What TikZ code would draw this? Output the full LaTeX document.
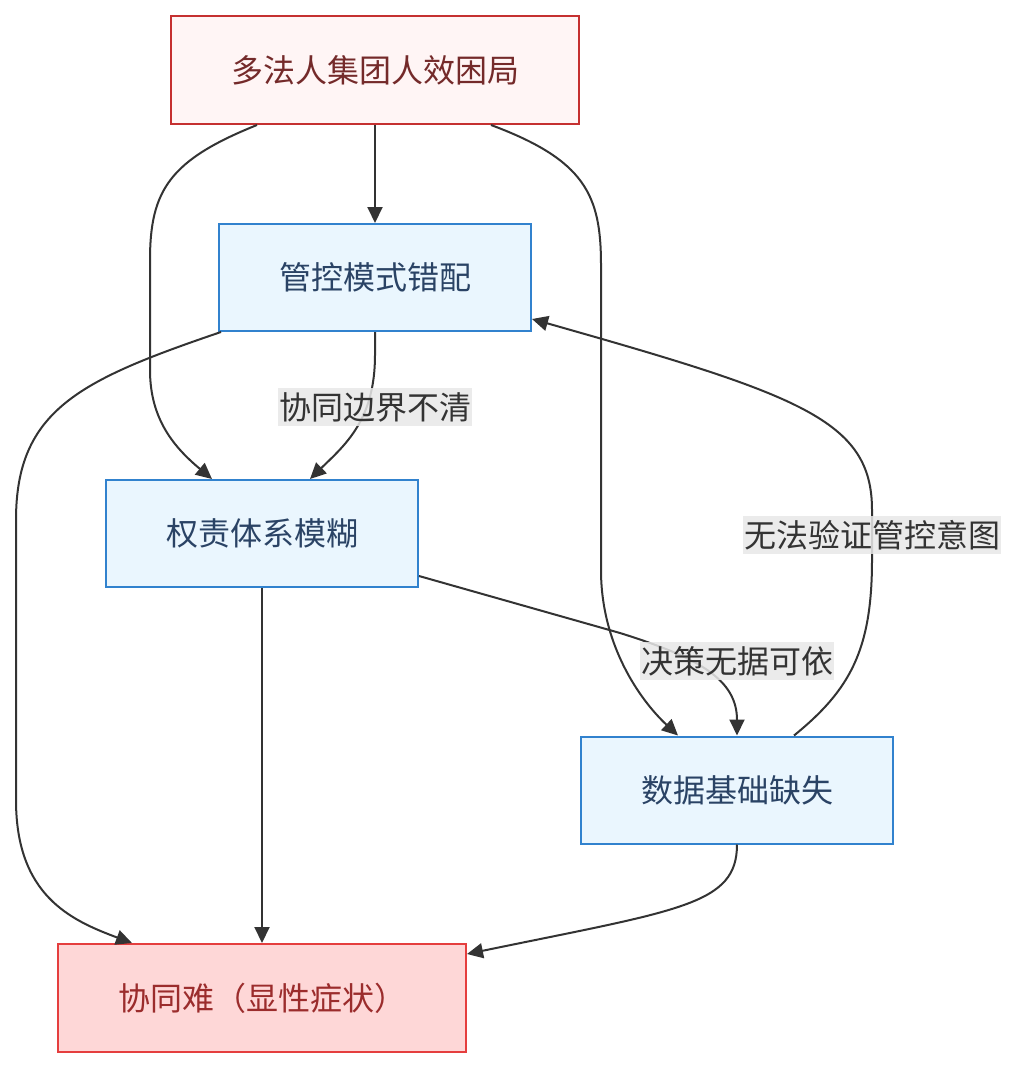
\documentclass[tikz,border=0pt]{standalone}
\usepackage{fontspec}
\setmainfont{Noto Sans CJK SC}
\usetikzlibrary{arrows.meta,calc}
\definecolor{topfill}{HTML}{FFF5F5}
\definecolor{topdraw}{HTML}{C53030}
\definecolor{toptext}{HTML}{742A2A}
\definecolor{bluefill}{HTML}{EAF6FE}
\definecolor{bluedraw}{HTML}{3182CE}
\definecolor{bluetext}{HTML}{2A4365}
\definecolor{botfill}{HTML}{FED7D7}
\definecolor{botdraw}{HTML}{E53E3E}
\definecolor{bottext}{HTML}{9B2C2C}
\definecolor{edgec}{HTML}{333333}
\definecolor{lblbg}{HTML}{E8E8E8}
\tikzset{
  box/.style={draw, line width=2pt, inner sep=0pt, font=\fontsize{32}{38}\selectfont},
  topbox/.style={box, fill=topfill, draw=topdraw, text=toptext, minimum width=408pt, minimum height=108pt},
  bluebox/.style={box, fill=bluefill, draw=bluedraw, text=bluetext, minimum width=312pt, minimum height=107pt},
  botbox/.style={box, fill=botfill, draw=botdraw, text=bottext, minimum width=408pt, minimum height=108pt},
  edge/.style={draw=edgec, line width=2pt, -{Triangle[length=16pt,width=15pt]}},
  lbl/.style={fill=lblbg, fill opacity=0.85, text opacity=1, text=edgec, inner xsep=1pt, inner ysep=4pt, font=\fontsize{32}{38}\selectfont}
}
\begin{document}
\begin{tikzpicture}[x=1pt,y=-1pt]
\useasboundingbox (0,0) rectangle (1017,1068);
\node[topbox] (top) at (375,70) {多法人集团人效困局};
\node[bluebox] (gk) at (375,277.5) {管控模式错配};
\node[bluebox] (qz) at (262,533.5) {权责体系模糊};
\node[bluebox] (sj) at (737,790) {数据基础缺失};
\node[botbox] (xt) at (262,998) {协同难（显性症状）};

\coordinate (t1) at ($(top.south west)+(87,0)$);
\coordinate (t3) at ($(top.south west)+(321,0)$);
\coordinate (q1) at ($(qz.north west)+(107,0)$);
\coordinate (q2) at ($(qz.north west)+(205,0)$);
\coordinate (s1) at ($(sj.north west)+(98,0)$);
\coordinate (s3) at ($(sj.north west)+(214,0)$);
\coordinate (g1) at ($(gk.south west)+(3,0)$);
\coordinate (g2) at ($(gk.south east)+(0,-13)$);
\coordinate (q3) at ($(qz.south east)+(0,-12)$);
\coordinate (x1) at ($(xt.north west)+(75,0)$);
\coordinate (x3) at ($(xt.north east)+(0,11)$);

\draw[edge] (top.south) -- (gk.north);
\draw[edge] (t1) .. controls (170,160) and (150,190) .. (150,260) -- (150,370) .. controls (150,420) and (175,448) .. (q1);
\draw[edge] (t3) .. controls (585,160) and (601,195) .. (601,265) -- (601,570) .. controls (601,645) and (640,700) .. (s1);
\draw[edge] (gk.south) -- (375,355) .. controls (375,420) and (345,445) .. (q2);
\draw[edge] (g1) .. controls (80,380) and (16,410) .. (16,520) -- (16,800) .. controls (16,895) and (70,920) .. (x1);
\draw[edge] (qz.south) -- (xt.north);
\draw[edge] (q3) -- (620,633) .. controls (700,658) and (737,680) .. (sj.north);
\draw[edge] (s3) .. controls (850,690) and (872,650) .. (872,560) -- (872,510) .. controls (872,420) and (800,395) .. (g2);
\draw[edge] (sj.south) .. controls (737,905) and (680,910) .. (x3);

\node[lbl] (l1) at (375,407) {协同边界不清};
\node[lbl] (l2) at (737,661) {决策无据可依};
\node[lbl] (l3) at (872,535) {无法验证管控意图};
\end{tikzpicture}
\end{document}
